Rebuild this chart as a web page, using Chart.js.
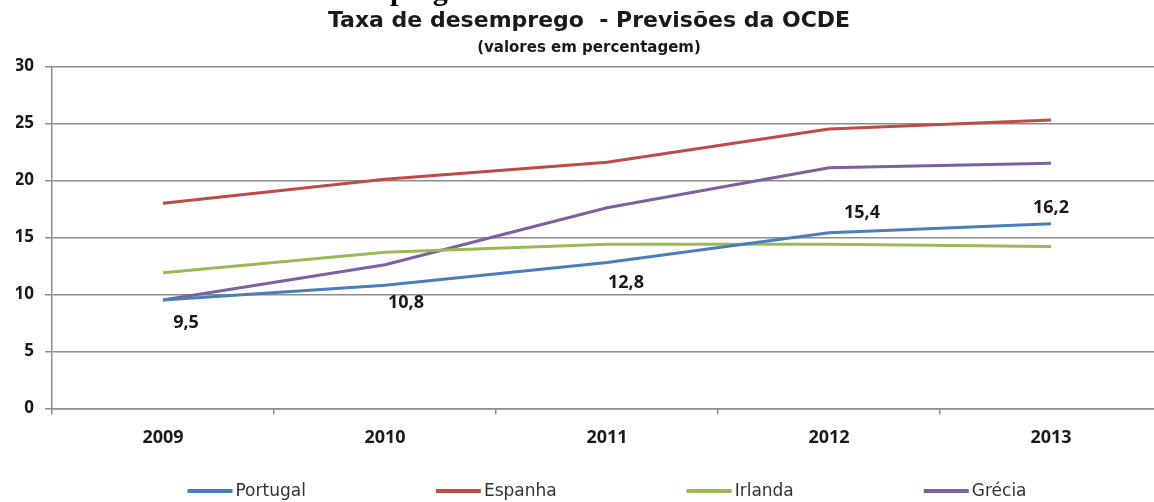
<!DOCTYPE html>
<html>
<head>
<meta charset="utf-8">
<script src="https://cdn.jsdelivr.net/npm/chart.js@4.4.1/dist/chart.umd.min.js"></script>
<style>
  html, body { margin: 0; padding: 0; background: #fff; overflow: hidden; }
  #wrap { position: relative; width: 1178px; height: 502px; }
  #head { position: absolute; left: 310px; top: -25px; font: bold 30px "Liberation Serif", serif; line-height: 30px; color: #000; white-space: nowrap; }
</style>
</head>
<body>
<div id="wrap">
  <canvas id="chart"></canvas>
  <div id="head">desemprego</div>
</div>
<script>
const years = ["2009", "2010", "2011", "2012", "2013"];
const portugal = [9.5, 10.8, 12.8, 15.4, 16.2];
const espanha = [18.0, 20.1, 21.6, 24.5, 25.3];
const irlanda = [11.9, 13.7, 14.4, 14.4, 14.2];
const grecia = [9.5, 12.6, 17.6, 21.1, 21.5];
const yTicks = [0, 5, 10, 15, 20, 25, 30];

const FONT = "'Open Sans', sans-serif";
const TITLE_FONT = "'DejaVu Sans', sans-serif";

// value labels on the Portugal line, nudged off the line
const labelOffsets = [[23, 23], [21, 18], [19, 20], [33, -20], [0, -16]];
const valueLabels = {
  id: "valueLabels",
  afterDatasetsDraw(chart) {
    const meta = chart.getDatasetMeta(0);
    const ctx = chart.ctx;
    ctx.save();
    ctx.font = "bold 18px " + FONT;
    ctx.fillStyle = "#1a1a1a";
    ctx.textAlign = "center";
    ctx.textBaseline = "middle";
    meta.data.forEach((pt, i) => {
      const [dx, dy] = labelOffsets[i];
      ctx.fillText(portugal[i].toFixed(1).replace(".", ","), pt.x + dx, pt.y + dy);
    });
    ctx.restore();
  }
};

// legend row: wide gaps between items, centred under the plot
const wideLegend = {
  id: "wideLegend",
  afterDraw(chart) {
    const ctx = chart.ctx;
    const sets = chart.data.datasets;
    const swatch = 45, gap = 3, spacing = 130, y = 491;
    ctx.save();
    ctx.font = "17px " + TITLE_FONT;
    const widths = sets.map(d => swatch + gap + ctx.measureText(d.label).width);
    const total = widths.reduce((a, b) => a + b, 0) + spacing * (sets.length - 1);
    const area = chart.chartArea;
    let x = (area.left + area.right) / 2 - total / 2;
    ctx.textBaseline = "middle";
    ctx.textAlign = "left";
    sets.forEach((d, i) => {
      ctx.strokeStyle = d.borderColor;
      ctx.lineWidth = 4;
      ctx.beginPath();
      ctx.moveTo(x, y);
      ctx.lineTo(x + swatch, y);
      ctx.stroke();
      ctx.fillStyle = "#333";
      ctx.fillText(d.label, x + swatch + gap, y + 1);
      x += widths[i] + spacing;
    });
    ctx.restore();
  }
};

function series(label, data, color) {
  return {
    label, data,
    borderColor: color,
    backgroundColor: color,
    borderWidth: 3,
    pointRadius: 0,
    tension: 0,
    fill: false
  };
}

new Chart(document.getElementById("chart"), {
  type: "line",
  data: {
    labels: years,
    datasets: [
      series("Portugal", portugal, "#4a7ebb"),
      series("Espanha", espanha, "#be4b48"),
      series("Irlanda", irlanda, "#98b954"),
      series("Grécia", grecia, "#7d60a0")
    ]
  },
  options: {
    responsive: true,
    maintainAspectRatio: false,
    animation: false,
    layout: { padding: { top: 0, right: 16, bottom: 40, left: 16 } },
    scales: {
      x: {
        offset: true,
        grid: { display: true, offset: true, drawOnChartArea: false, drawTicks: true, tickLength: 6, color: "#8c8c8c", lineWidth: 1.5 },
        border: { color: "#8c8c8c", width: 1.5 },
        ticks: { color: "#1a1a1a", font: { family: FONT, size: 18, weight: "bold" }, padding: 13, maxRotation: 0 }
      },
      y: {
        min: 0,
        max: 30,
        afterBuildTicks: (s) => { s.ticks = yTicks.map(v => ({ value: v })); },
        afterFit: (s) => { s.width = 36; },
        grid: { color: "#8c8c8c", lineWidth: 1.5, tickLength: 7 },
        border: { color: "#8c8c8c", width: 1.5 },
        ticks: { color: "#1a1a1a", font: { family: FONT, size: 17, weight: "bold" }, padding: 11 }
      }
    },
    plugins: {
      title: {
        display: true,
        text: "Taxa de desemprego  - Previsões da OCDE",
        color: "#1a1a1a",
        font: { family: TITLE_FONT, size: 22, weight: "bold" },
        padding: { top: 8, bottom: 5 }
      },
      subtitle: {
        display: true,
        text: "(valores em percentagem)",
        color: "#1a1a1a",
        font: { family: TITLE_FONT, size: 15, weight: "bold" },
        padding: { top: 0, bottom: 9 }
      },
      legend: { display: false },
      tooltip: { enabled: false }
    }
  },
  plugins: [valueLabels, wideLegend]
});
</script>
</body>
</html>
